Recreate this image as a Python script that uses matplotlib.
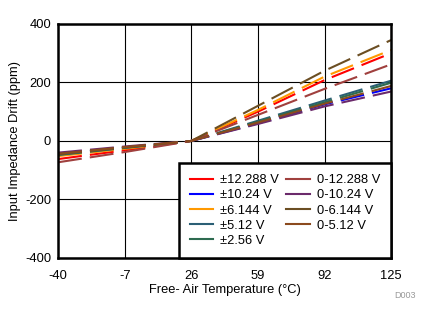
import matplotlib
matplotlib.use("Agg")
import matplotlib.pyplot as plt
from matplotlib.lines import Line2D

plt.rcParams['font.family'] = ['Liberation Sans', 'DejaVu Sans']
plt.rcParams['axes.unicode_minus'] = False

temps = [-40, -7, 26, 59, 92, 125]

labels = ["±12.288 V", "±10.24 V", "±6.144 V", "±5.12 V", "±2.56 V",
          "0-12.288 V", "0-10.24 V", "0-6.144 V", "0-5.12 V"]
colors = ["#FF0000", "#0000FF", "#FF9900", "#2B5F75", "#2E6B50",
          "#A0403E", "#6B2A6B", "#6B4E23", "#8B4A1E"]

# drift values (ppm) at each temperature
pm12288 = [-62, -32, 0, 100, 208, 300]
pm1024 = [-45, -22, 0, 60, 125, 180]
pm6144 = [-52, -27, 0, 106, 220, 311]
pm512 = [-48, -24, 0, 69, 138, 206]
pm256 = [-47, -23, 0, 66, 132, 199]
u12288 = [-73, -38, 0, 89, 178, 262]
u1024 = [-40, -19, 0, 58, 118, 169]
u6144 = [-45, -22, 0, 120, 240, 345]
u512 = [-44, -21, 0, 63, 127, 188]
series = [pm12288, pm1024, pm6144, pm512, pm256, u12288, u1024, u6144, u512]

xticks = [-40, -7, 26, 59, 92, 125]
yticks = [-400, -200, 0, 200, 400]

fig = plt.figure(figsize=(4.27, 3.24), dpi=100)
ax = fig.add_axes([0.136, 0.204, 0.780, 0.722])

lw = 1.5
for vals, c in zip(series, colors):
    ax.plot(temps, vals, color=c, lw=lw, linestyle=(0, (11.5, 3.9)),
            solid_capstyle='butt', dash_capstyle='butt')

ax.set_xlim(-40, 125)
ax.set_ylim(-400, 400)
ax.set_xticks(xticks)
ax.set_yticks(yticks)
ax.grid(True, color='black', lw=0.8)
ax.set_axisbelow(True)
ax.tick_params(length=0, labelsize=9.3)
ax.tick_params(axis='x', pad=9)
ax.tick_params(axis='y', pad=5)
for s in ax.spines.values():
    s.set_linewidth(1.8)

ax.set_xlabel("Free- Air Temperature (°C)", fontsize=9.3, labelpad=1)
ax.set_ylabel("Input Impedance Drift (ppm)", fontsize=9.3, labelpad=3)

handles = [Line2D([0], [0], color=c, lw=lw) for c in colors]
leg = ax.legend(handles, labels, ncol=2, loc='lower right', fontsize=9.3,
                frameon=True, fancybox=False, borderaxespad=0,
                handlelength=1.8, handletextpad=0.55, columnspacing=0.55,
                labelspacing=0.24, borderpad=0.85)
leg.get_frame().set_edgecolor('black')
leg.get_frame().set_linewidth(1.8)
leg.get_frame().set_alpha(1)

fig.text(0.948, 0.08, "D003", fontsize=6.5, color='#999999', ha='center')

fig.savefig("out.png", dpi=100)
